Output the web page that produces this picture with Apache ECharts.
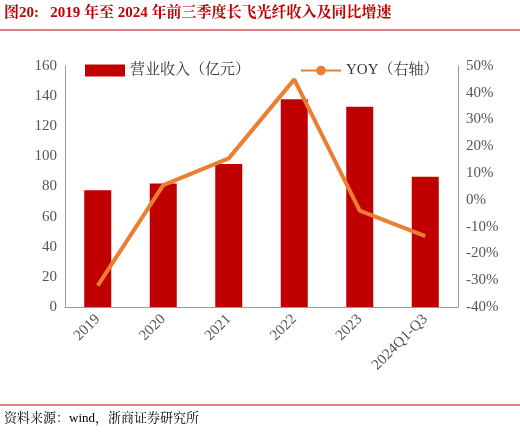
<!DOCTYPE html>
<html><head><meta charset="utf-8">
<script src="https://cdn.jsdelivr.net/npm/echarts@6/dist/echarts.min.js"></script>
<style>body{margin:0;background:#fff}#c{width:520px;height:433px}</style>
</head><body><div id="c"></div>
<script>
const categories=['2019','2020','2021','2022','2023','2024Q1-Q3'];
const revenue=[77.5,82,95,138,133,86.5];
const yoy=[-32,5.5,15.5,45,-4,-13.5];
const leftTicks=[0,20,40,60,80,100,120,140,160];
const c=echarts.init(document.getElementById('c'));
const serif='"Liberation Serif","Noto Serif CJK SC","Noto Sans CJK SC",serif';
c.setOption({
 animation:false,
 graphic:[
  {type:'text',left:4,top:6,style:{text:'图20:   2019 年至 2024 年前三季度长飞光纤收入及同比增速',fill:'#c00000',font:'bold 15px '+serif}},
  {type:'line',shape:{x1:0,y1:30,x2:520,y2:30},style:{stroke:'#c00000',lineWidth:1}},
  {type:'line',shape:{x1:0,y1:405,x2:520,y2:405},style:{stroke:'#c00000',lineWidth:1}},
  {type:'text',left:4,top:412,style:{text:'资料来源：wind，浙商证券研究所',fill:'#000',font:'13px '+serif}}
 ],
 legend:{top:58,left:80,itemGap:50,textStyle:{fontSize:15,fontFamily:serif,color:'#333'},
  data:[{name:'营业收入（亿元）',icon:'rect'},{name:'YOY（右轴）'}],itemWidth:40,itemHeight:12},
 grid:{left:65,right:62,top:66,bottom:126},
 xAxis:{type:'category',data:categories,axisTick:{show:false},axisLine:{lineStyle:{color:'#999'}},
  axisLabel:{rotate:45,fontSize:15,fontFamily:serif,color:'#555',margin:10}},
 yAxis:[
  {type:'value',min:0,max:160,interval:20,splitLine:{show:false},axisLine:{show:true,lineStyle:{color:'#999'}},
   axisLabel:{fontSize:15,fontFamily:serif,color:'#555'}},
  {type:'value',min:-40,max:50,interval:10,splitLine:{show:false},axisLine:{show:true,lineStyle:{color:'#999'}},
   axisLabel:{formatter:'{value}%',fontSize:15,fontFamily:serif,color:'#555'}}
 ],
 series:[
  {name:'营业收入（亿元）',type:'bar',data:revenue,barWidth:27,itemStyle:{color:'#c00000'}},
  {name:'YOY（右轴）',type:'line',yAxisIndex:1,data:yoy,symbol:'none',lineStyle:{color:'#ed7d31',width:4},itemStyle:{color:'#ed7d31'}}
 ]
});
</script></body></html>
